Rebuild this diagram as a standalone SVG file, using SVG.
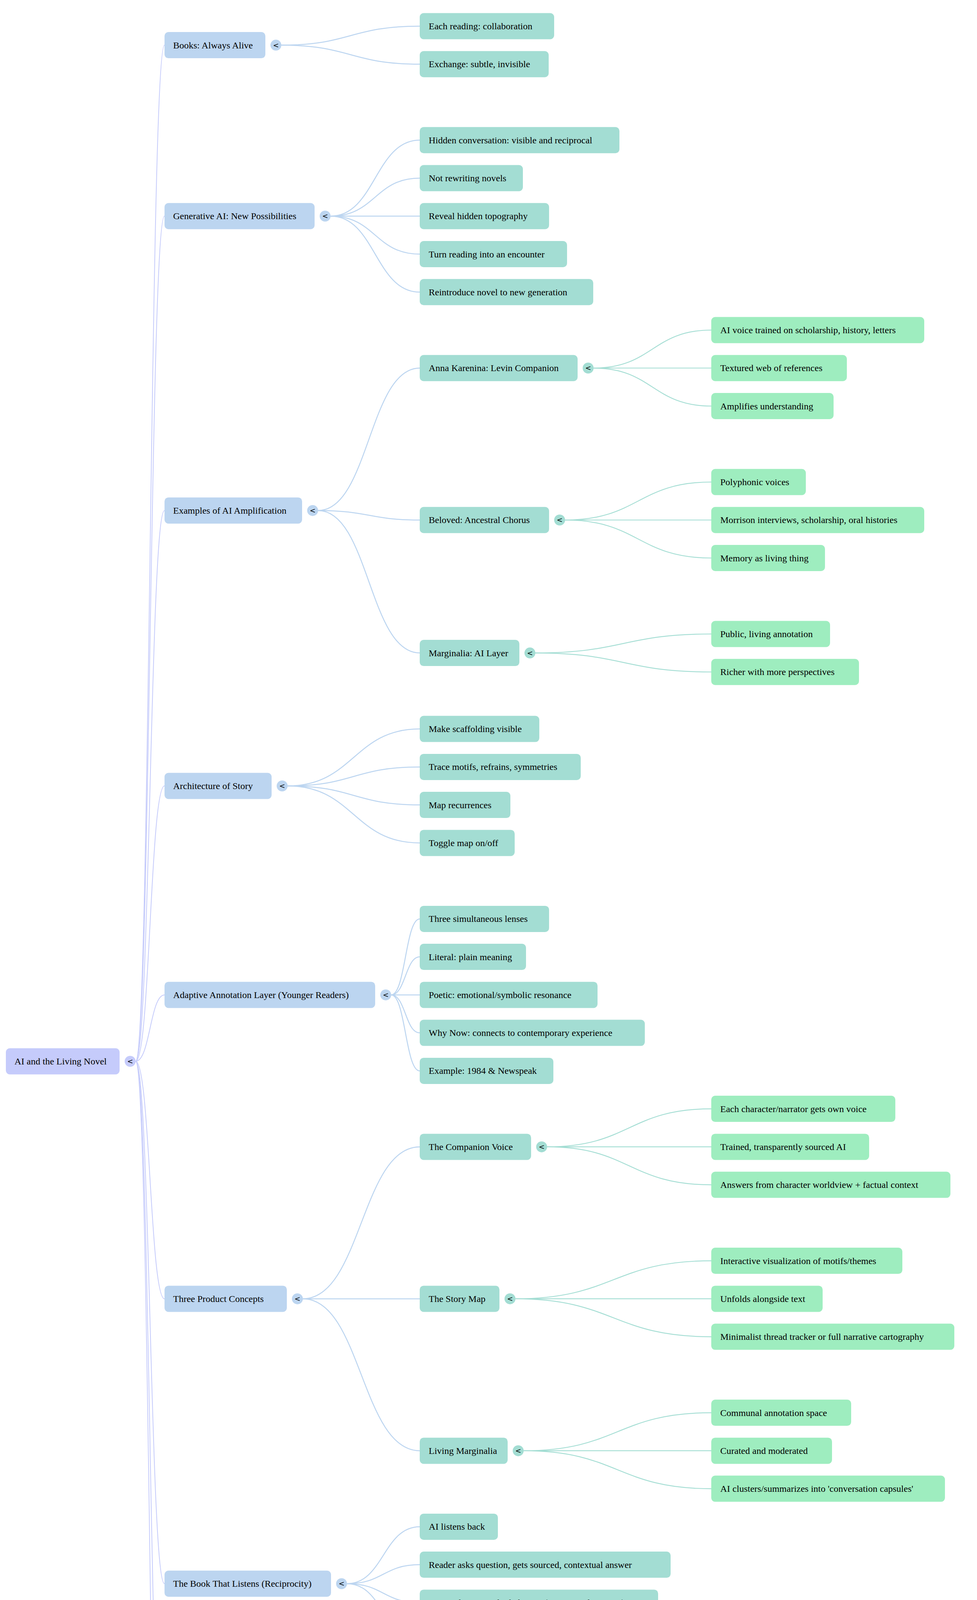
<svg xmlns="http://www.w3.org/2000/svg" width="2500" height="5532" viewBox="0 0 2500 5532">
<style>
.bg{fill:#ffffff}
.n0{fill:#c5cbfb}
.n1{fill:#bcd5f0}
.n2{fill:#a3ddd3}
.n3{fill:#9eedbf}
.t{font-family:"Liberation Serif","Times New Roman",serif;font-size:24px;fill:#000}
.tg{font-family:"DejaVu Sans","Liberation Sans",sans-serif;font-size:18px;fill:#000;text-anchor:middle}
.e0{fill:none;stroke:#c5cbfb;stroke-width:2}
.e1{fill:none;stroke:#bcd5f0;stroke-width:2.5}
.e2{fill:none;stroke:#a3ddd3;stroke-width:2.2}
</style>
<rect class="bg" x="0" y="0" width="2500" height="5532"/>
<g id="connectors">
<path class="e0" d="M347 2717 C384 2717 384 115.6 421 115.6"/>
<path class="e0" d="M347 2717 C384 2717 384 553.25 421 553.25"/>
<path class="e0" d="M347 2717 C384 2717 384 1306.9 421 1306.9"/>
<path class="e0" d="M347 2717 C384 2717 384 2012 421 2012"/>
<path class="e0" d="M347 2717 C384 2717 384 2546.9 421 2546.9"/>
<path class="e0" d="M347 2717 C384 2717 384 3324.9 421 3324.9"/>
<path class="e0" d="M347 2717 C384 2717 384 4054.25 421 4054.25"/>
<path class="e0" d="M347 2717 C384 2717 384 4686.4 421 4686.4"/>
<path class="e0" d="M347 2717 C384 2717 384 5318.5 421 5318.5"/>
<path class="e1" d="M720 115.6 C897 115.6 897 67 1074 67"/>
<path class="e1" d="M720 115.6 C897 115.6 897 164.25 1074 164.25"/>
<path class="e1" d="M846 553.25 C960 553.25 960 358.75 1074 358.75"/>
<path class="e1" d="M846 553.25 C960 553.25 960 456 1074 456"/>
<path class="e1" d="M846 553.25 C960 553.25 960 553.25 1074 553.25"/>
<path class="e1" d="M846 553.25 C960 553.25 960 650.5 1074 650.5"/>
<path class="e1" d="M846 553.25 C960 553.25 960 747.75 1074 747.75"/>
<path class="e1" d="M814 1306.9 C944 1306.9 944 942.25 1074 942.25"/>
<path class="e1" d="M814 1306.9 C944 1306.9 944 1331.25 1074 1331.25"/>
<path class="e1" d="M814 1306.9 C944 1306.9 944 1671.6 1074 1671.6"/>
<path class="e1" d="M736 2012 C905 2012 905 1866.1 1074 1866.1"/>
<path class="e1" d="M736 2012 C905 2012 905 1963.4 1074 1963.4"/>
<path class="e1" d="M736 2012 C905 2012 905 2060.6 1074 2060.6"/>
<path class="e1" d="M736 2012 C905 2012 905 2157.9 1074 2157.9"/>
<path class="e1" d="M1001 2546.9 C1037.5 2546.9 1037.5 2352.4 1074 2352.4"/>
<path class="e1" d="M1001 2546.9 C1037.5 2546.9 1037.5 2449.6 1074 2449.6"/>
<path class="e1" d="M1001 2546.9 C1037.5 2546.9 1037.5 2546.9 1074 2546.9"/>
<path class="e1" d="M1001 2546.9 C1037.5 2546.9 1037.5 2644.1 1074 2644.1"/>
<path class="e1" d="M1001 2546.9 C1037.5 2546.9 1037.5 2741.4 1074 2741.4"/>
<path class="e1" d="M775 3324.9 C924.5 3324.9 924.5 2935.9 1074 2935.9"/>
<path class="e1" d="M775 3324.9 C924.5 3324.9 924.5 3324.9 1074 3324.9"/>
<path class="e1" d="M775 3324.9 C924.5 3324.9 924.5 3713.9 1074 3713.9"/>
<path class="e1" d="M888 4054.25 C981 4054.25 981 3908.4 1074 3908.4"/>
<path class="e1" d="M888 4054.25 C981 4054.25 981 4005.6 1074 4005.6"/>
<path class="e1" d="M888 4054.25 C981 4054.25 981 4102.9 1074 4102.9"/>
<path class="e1" d="M888 4054.25 C981 4054.25 981 4200.1 1074 4200.1"/>
<path class="e1" d="M761 4686.4 C917.5 4686.4 917.5 4394.6 1074 4394.6"/>
<path class="e1" d="M761 4686.4 C917.5 4686.4 917.5 4491.9 1074 4491.9"/>
<path class="e1" d="M761 4686.4 C917.5 4686.4 917.5 4589.1 1074 4589.1"/>
<path class="e1" d="M761 4686.4 C917.5 4686.4 917.5 4686.4 1074 4686.4"/>
<path class="e1" d="M761 4686.4 C917.5 4686.4 917.5 4783.6 1074 4783.6"/>
<path class="e1" d="M761 4686.4 C917.5 4686.4 917.5 4880.9 1074 4880.9"/>
<path class="e1" d="M761 4686.4 C917.5 4686.4 917.5 4978.1 1074 4978.1"/>
<path class="e1" d="M837 5318.5 C955.5 5318.5 955.5 5172.6 1074 5172.6"/>
<path class="e1" d="M837 5318.5 C955.5 5318.5 955.5 5269.9 1074 5269.9"/>
<path class="e1" d="M837 5318.5 C955.5 5318.5 955.5 5367.1 1074 5367.1"/>
<path class="e1" d="M837 5318.5 C955.5 5318.5 955.5 5464.4 1074 5464.4"/>
<path class="e2" d="M1519 942.25 C1669.5 942.25 1669.5 845 1820 845"/>
<path class="e2" d="M1519 942.25 C1669.5 942.25 1669.5 942.25 1820 942.25"/>
<path class="e2" d="M1519 942.25 C1669.5 942.25 1669.5 1039.5 1820 1039.5"/>
<path class="e2" d="M1446 1331.25 C1633 1331.25 1633 1234 1820 1234"/>
<path class="e2" d="M1446 1331.25 C1633 1331.25 1633 1331.25 1820 1331.25"/>
<path class="e2" d="M1446 1331.25 C1633 1331.25 1633 1428.5 1820 1428.5"/>
<path class="e2" d="M1370 1671.6 C1595 1671.6 1595 1623 1820 1623"/>
<path class="e2" d="M1370 1671.6 C1595 1671.6 1595 1720.25 1820 1720.25"/>
<path class="e2" d="M1400 2935.9 C1610 2935.9 1610 2838.6 1820 2838.6"/>
<path class="e2" d="M1400 2935.9 C1610 2935.9 1610 2935.9 1820 2935.9"/>
<path class="e2" d="M1400 2935.9 C1610 2935.9 1610 3033.1 1820 3033.1"/>
<path class="e2" d="M1319 3324.9 C1569.5 3324.9 1569.5 3227.6 1820 3227.6"/>
<path class="e2" d="M1319 3324.9 C1569.5 3324.9 1569.5 3324.9 1820 3324.9"/>
<path class="e2" d="M1319 3324.9 C1569.5 3324.9 1569.5 3422.1 1820 3422.1"/>
<path class="e2" d="M1340 3713.9 C1580 3713.9 1580 3616.6 1820 3616.6"/>
<path class="e2" d="M1340 3713.9 C1580 3713.9 1580 3713.9 1820 3713.9"/>
<path class="e2" d="M1340 3713.9 C1580 3713.9 1580 3811.1 1820 3811.1"/>
</g>
<g id="root"><rect class="n0" x="15" y="2683.5" width="291" height="67" rx="10"/><text class="t" x="37" y="2725">AI and the Living Novel</text><circle class="n0" cx="333" cy="2717" r="14"/><text class="tg" x="333" y="2723">&lt;</text></g>
<g id="books"><rect class="n1" x="421" y="82.1" width="258" height="67" rx="10"/><text class="t" x="443" y="123.6">Books: Always Alive</text><circle class="n1" cx="706" cy="115.6" r="14"/><text class="tg" x="706" y="121.6">&lt;</text></g>
<g id="books-1"><rect class="n2" x="1074" y="33.5" width="344" height="67" rx="10"/><text class="t" x="1097" y="75">Each reading: collaboration</text></g>
<g id="books-2"><rect class="n2" x="1074" y="130.75" width="330" height="67" rx="10"/><text class="t" x="1097" y="172.25">Exchange: subtle, invisible</text></g>
<g id="genai"><rect class="n1" x="421" y="519.75" width="384" height="67" rx="10"/><text class="t" x="443" y="561.25">Generative AI: New Possibilities</text><circle class="n1" cx="832" cy="553.25" r="14"/><text class="tg" x="832" y="559.25">&lt;</text></g>
<g id="genai-1"><rect class="n2" x="1074" y="325.25" width="511" height="67" rx="10"/><text class="t" x="1097" y="366.75">Hidden conversation: visible and reciprocal</text></g>
<g id="genai-2"><rect class="n2" x="1074" y="422.5" width="264" height="67" rx="10"/><text class="t" x="1097" y="464">Not rewriting novels</text></g>
<g id="genai-3"><rect class="n2" x="1074" y="519.75" width="331" height="67" rx="10"/><text class="t" x="1097" y="561.25">Reveal hidden topography</text></g>
<g id="genai-4"><rect class="n2" x="1074" y="617" width="377" height="67" rx="10"/><text class="t" x="1097" y="658.5">Turn reading into an encounter</text></g>
<g id="genai-5"><rect class="n2" x="1074" y="714.25" width="444" height="67" rx="10"/><text class="t" x="1097" y="755.75">Reintroduce novel to new generation</text></g>
<g id="examples"><rect class="n1" x="421" y="1273.4" width="352" height="67" rx="10"/><text class="t" x="443" y="1314.9">Examples of AI Amplification</text><circle class="n1" cx="800" cy="1306.9" r="14"/><text class="tg" x="800" y="1312.9">&lt;</text></g>
<g id="anna"><rect class="n2" x="1074" y="908.75" width="404" height="67" rx="10"/><text class="t" x="1097" y="950.25">Anna Karenina: Levin Companion</text><circle class="n2" cx="1505" cy="942.25" r="14"/><text class="tg" x="1505" y="948.25">&lt;</text></g>
<g id="anna-1"><rect class="n3" x="1820" y="811.5" width="545" height="67" rx="10"/><text class="t" x="1843" y="853">AI voice trained on scholarship, history, letters</text></g>
<g id="anna-2"><rect class="n3" x="1820" y="908.75" width="347" height="67" rx="10"/><text class="t" x="1843" y="950.25">Textured web of references</text></g>
<g id="anna-3"><rect class="n3" x="1820" y="1006" width="313" height="67" rx="10"/><text class="t" x="1843" y="1047.5">Amplifies understanding</text></g>
<g id="beloved"><rect class="n2" x="1074" y="1297.75" width="331" height="67" rx="10"/><text class="t" x="1097" y="1339.25">Beloved: Ancestral Chorus</text><circle class="n2" cx="1432" cy="1331.25" r="14"/><text class="tg" x="1432" y="1337.25">&lt;</text></g>
<g id="beloved-1"><rect class="n3" x="1820" y="1200.5" width="242" height="67" rx="10"/><text class="t" x="1843" y="1242">Polyphonic voices</text></g>
<g id="beloved-2"><rect class="n3" x="1820" y="1297.75" width="545" height="67" rx="10"/><text class="t" x="1843" y="1339.25">Morrison interviews, scholarship, oral histories</text></g>
<g id="beloved-3"><rect class="n3" x="1820" y="1395" width="291" height="67" rx="10"/><text class="t" x="1843" y="1436.5">Memory as living thing</text></g>
<g id="marginalia"><rect class="n2" x="1074" y="1638.1" width="255" height="67" rx="10"/><text class="t" x="1097" y="1679.6">Marginalia: AI Layer</text><circle class="n2" cx="1356" cy="1671.6" r="14"/><text class="tg" x="1356" y="1677.6">&lt;</text></g>
<g id="marginalia-1"><rect class="n3" x="1820" y="1589.5" width="304" height="67" rx="10"/><text class="t" x="1843" y="1631">Public, living annotation</text></g>
<g id="marginalia-2"><rect class="n3" x="1820" y="1686.75" width="378" height="67" rx="10"/><text class="t" x="1843" y="1728.25">Richer with more perspectives</text></g>
<g id="architecture"><rect class="n1" x="421" y="1978.5" width="274" height="67" rx="10"/><text class="t" x="443" y="2020">Architecture of Story</text><circle class="n1" cx="722" cy="2012" r="14"/><text class="tg" x="722" y="2018">&lt;</text></g>
<g id="architecture-1"><rect class="n2" x="1074" y="1832.6" width="306" height="67" rx="10"/><text class="t" x="1097" y="1874.1">Make scaffolding visible</text></g>
<g id="architecture-2"><rect class="n2" x="1074" y="1929.9" width="412" height="67" rx="10"/><text class="t" x="1097" y="1971.4">Trace motifs, refrains, symmetries</text></g>
<g id="architecture-3"><rect class="n2" x="1074" y="2027.1" width="232" height="67" rx="10"/><text class="t" x="1097" y="2068.6">Map recurrences</text></g>
<g id="architecture-4"><rect class="n2" x="1074" y="2124.4" width="243" height="67" rx="10"/><text class="t" x="1097" y="2165.9">Toggle map on/off</text></g>
<g id="adaptive"><rect class="n1" x="421" y="2513.4" width="539" height="67" rx="10"/><text class="t" x="443" y="2554.9">Adaptive Annotation Layer (Younger Readers)</text><circle class="n1" cx="987" cy="2546.9" r="14"/><text class="tg" x="987" y="2552.9">&lt;</text></g>
<g id="adaptive-1"><rect class="n2" x="1074" y="2318.9" width="331" height="67" rx="10"/><text class="t" x="1097" y="2360.4">Three simultaneous lenses</text></g>
<g id="adaptive-2"><rect class="n2" x="1074" y="2416.1" width="272" height="67" rx="10"/><text class="t" x="1097" y="2457.6">Literal: plain meaning</text></g>
<g id="adaptive-3"><rect class="n2" x="1074" y="2513.4" width="455" height="67" rx="10"/><text class="t" x="1097" y="2554.9">Poetic: emotional/symbolic resonance</text></g>
<g id="adaptive-4"><rect class="n2" x="1074" y="2610.6" width="576" height="67" rx="10"/><text class="t" x="1097" y="2652.1">Why Now: connects to contemporary experience</text></g>
<g id="adaptive-5"><rect class="n2" x="1074" y="2707.9" width="342" height="67" rx="10"/><text class="t" x="1097" y="2749.4">Example: 1984 &amp; Newspeak</text></g>
<g id="products"><rect class="n1" x="421" y="3291.4" width="313" height="67" rx="10"/><text class="t" x="443" y="3332.9">Three Product Concepts</text><circle class="n1" cx="761" cy="3324.9" r="14"/><text class="tg" x="761" y="3330.9">&lt;</text></g>
<g id="companion"><rect class="n2" x="1074" y="2902.4" width="285" height="67" rx="10"/><text class="t" x="1097" y="2943.9">The Companion Voice</text><circle class="n2" cx="1386" cy="2935.9" r="14"/><text class="tg" x="1386" y="2941.9">&lt;</text></g>
<g id="companion-1"><rect class="n3" x="1820" y="2805.1" width="471" height="67" rx="10"/><text class="t" x="1843" y="2846.6">Each character/narrator gets own voice</text></g>
<g id="companion-2"><rect class="n3" x="1820" y="2902.4" width="404" height="67" rx="10"/><text class="t" x="1843" y="2943.9">Trained, transparently sourced AI</text></g>
<g id="companion-3"><rect class="n3" x="1820" y="2999.6" width="612" height="67" rx="10"/><text class="t" x="1843" y="3041.1">Answers from character worldview + factual context</text></g>
<g id="storymap"><rect class="n2" x="1074" y="3291.4" width="204" height="67" rx="10"/><text class="t" x="1097" y="3332.9">The Story Map</text><circle class="n2" cx="1305" cy="3324.9" r="14"/><text class="tg" x="1305" y="3330.9">&lt;</text></g>
<g id="storymap-1"><rect class="n3" x="1820" y="3194.1" width="489" height="67" rx="10"/><text class="t" x="1843" y="3235.6">Interactive visualization of motifs/themes</text></g>
<g id="storymap-2"><rect class="n3" x="1820" y="3291.4" width="285" height="67" rx="10"/><text class="t" x="1843" y="3332.9">Unfolds alongside text</text></g>
<g id="storymap-3"><rect class="n3" x="1820" y="3388.6" width="622" height="67" rx="10"/><text class="t" x="1843" y="3430.1">Minimalist thread tracker or full narrative cartography</text></g>
<g id="living"><rect class="n2" x="1074" y="3680.4" width="225" height="67" rx="10"/><text class="t" x="1097" y="3721.9">Living Marginalia</text><circle class="n2" cx="1326" cy="3713.9" r="14"/><text class="tg" x="1326" y="3719.9">&lt;</text></g>
<g id="living-1"><rect class="n3" x="1820" y="3583.1" width="358" height="67" rx="10"/><text class="t" x="1843" y="3624.6">Communal annotation space</text></g>
<g id="living-2"><rect class="n3" x="1820" y="3680.4" width="309" height="67" rx="10"/><text class="t" x="1843" y="3721.9">Curated and moderated</text></g>
<g id="living-3"><rect class="n3" x="1820" y="3777.6" width="598" height="67" rx="10"/><text class="t" x="1843" y="3819.1">AI clusters/summarizes into 'conversation capsules'</text></g>
<g id="listens"><rect class="n1" x="421" y="4020.75" width="426" height="67" rx="10"/><text class="t" x="443" y="4062.25">The Book That Listens (Reciprocity)</text><circle class="n1" cx="874" cy="4054.25" r="14"/><text class="tg" x="874" y="4060.25">&lt;</text></g>
<g id="listens-1"><rect class="n2" x="1074" y="3874.9" width="200" height="67" rx="10"/><text class="t" x="1097" y="3916.4">AI listens back</text></g>
<g id="listens-2"><rect class="n2" x="1074" y="3972.1" width="642" height="67" rx="10"/><text class="t" x="1097" y="4013.6">Reader asks question, gets sourced, contextual answer</text></g>
<g id="listens-3"><rect class="n2" x="1074" y="4069.4" width="610" height="67" rx="10"/><text class="t" x="1097" y="4110.9">System learns reader behavior (questions, lingering)</text></g>
<g id="listens-4"><rect class="n2" x="1074" y="4166.6" width="673" height="67" rx="10"/><text class="t" x="1097" y="4208.1">Feedback loop informs educators, publishers, annotations</text></g>
<g id="dangers"><rect class="n1" x="421" y="4652.9" width="299" height="67" rx="10"/><text class="t" x="443" y="4694.4">Dangers and Guardrails</text><circle class="n1" cx="747" cy="4686.4" r="14"/><text class="tg" x="747" y="4692.4">&lt;</text></g>
<g id="dangers-1"><rect class="n2" x="1074" y="4361.1" width="366" height="67" rx="10"/><text class="t" x="1097" y="4402.6">Danger: flattening complexity</text></g>
<g id="dangers-2"><rect class="n2" x="1074" y="4458.4" width="451" height="67" rx="10"/><text class="t" x="1097" y="4499.9">Danger: AI voice overshadows author</text></g>
<g id="dangers-3"><rect class="n2" x="1074" y="4555.6" width="306" height="67" rx="10"/><text class="t" x="1097" y="4597.1">Strict guardrails needed</text></g>
<g id="dangers-4"><rect class="n2" x="1074" y="4652.9" width="373" height="67" rx="10"/><text class="t" x="1097" y="4694.4">Provenance on AI contribution</text></g>
<g id="dangers-5"><rect class="n2" x="1074" y="4750.1" width="430" height="67" rx="10"/><text class="t" x="1097" y="4791.6">Clear consent from authors/estates</text></g>
<g id="dangers-6"><rect class="n2" x="1074" y="4847.4" width="426" height="67" rx="10"/><text class="t" x="1097" y="4888.9">Human curation as governing force</text></g>
<g id="dangers-7"><rect class="n2" x="1074" y="4944.6" width="338" height="67" rx="10"/><text class="t" x="1097" y="4986.1">AI is a guest, not co-author</text></g>
<g id="impact"><rect class="n1" x="421" y="5285" width="375" height="67" rx="10"/><text class="t" x="443" y="5326.5">Impact on Reading Experience</text><circle class="n1" cx="823" cy="5318.5" r="14"/><text class="tg" x="823" y="5324.5">&lt;</text></g>
<g id="impact-1"><rect class="n2" x="1074" y="5139.1" width="380" height="67" rx="10"/><text class="t" x="1097" y="5180.6">Deepens and enriches reading</text></g>
<g id="impact-2"><rect class="n2" x="1074" y="5236.4" width="276" height="67" rx="10"/><text class="t" x="1097" y="5277.9">Encourages lingering</text></g>
<g id="impact-3"><rect class="n2" x="1074" y="5333.6" width="448" height="67" rx="10"/><text class="t" x="1097" y="5375.1">Novel becomes something to inhabit</text></g>
<g id="impact-4"><rect class="n2" x="1074" y="5430.9" width="296" height="67" rx="10"/><text class="t" x="1097" y="5472.4">Interactive relationship</text></g>
</svg>
